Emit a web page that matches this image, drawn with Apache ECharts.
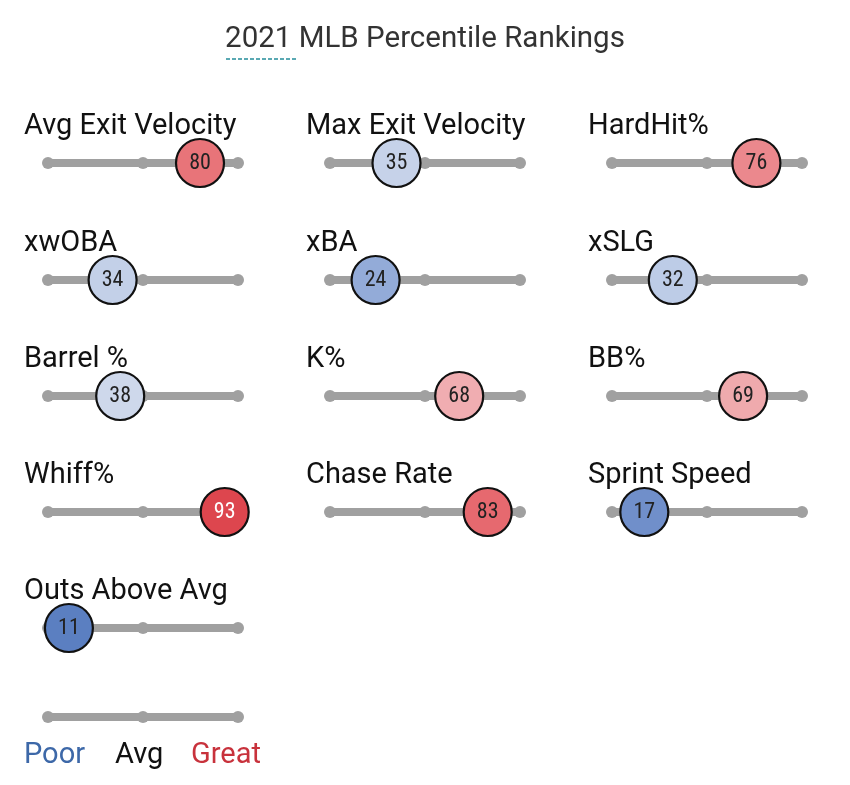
<!DOCTYPE html>
<html>
<head>
<meta charset="utf-8">
<script src="https://cdn.jsdelivr.net/npm/echarts@6/dist/echarts.min.js"></script>
<style>
html,body{margin:0;padding:0;background:#fff;}
#chart{width:850px;height:785px;}
</style>
</head>
<body>
<div id="chart"></div>
<script>
// ---- data ----
const chartTitle = '2021 MLB Percentile Rankings';
const metrics = ['Avg Exit Velocity','Max Exit Velocity','HardHit%','xwOBA','xBA','xSLG','Barrel %','K%','BB%','Whiff%','Chase Rate','Sprint Speed','Outs Above Avg'];
const percentiles = [80,35,76,34,24,32,38,68,69,93,83,17,11];
const scaleTicks = [0,50,100];
const legendLabels = ['Poor','Avg','Great'];

// ---- layout / style ----
const FONT = "Roboto,'Noto Sans',sans-serif";
const NUMFONT = "'Roboto Condensed',Roboto,sans-serif";
const colX = [48,330,612];
const labelX = [24,306,588];
const rowY = [163,280,396,512,628];
const legendY = 717;
const trackW = 190;
const colorStops = [
  [0,[58,95,168]],[10,[87,124,191]],[20,[123,151,207]],[30,[184,200,230]],[40,[211,220,236]],
  [50,[232,232,232]],[60,[242,201,203]],[70,[239,166,170]],[80,[232,116,121]],[90,[224,80,88]],[100,[214,46,56]]
];
function pctColor(v){
  for(let i=0;i<colorStops.length-1;i++){
    const [a,ca]=colorStops[i],[b,cb]=colorStops[i+1];
    if(v>=a&&v<=b){
      const t=(v-a)/(b-a);
      const c=ca.map((x,k)=>Math.round(x+(cb[k]-x)*t));
      return 'rgb('+c.join(',')+')';
    }
  }
  return '#ccc';
}

const grids=[],xAxes=[],yAxes=[],series=[],titles=[];
titles.push({text:chartTitle,left:'center',top:25,padding:0,textStyle:{fontFamily:FONT,fontSize:29.5,fontWeight:'normal',color:'#333'}});

function addTrack(idx,left,y){
  grids.push({left:left,top:y-30,width:trackW,height:60});
  xAxes.push({gridIndex:idx,type:'value',min:0,max:100,show:false});
  yAxes.push({gridIndex:idx,type:'value',min:-1,max:1,show:false});
  series.push({
    type:'line',xAxisIndex:idx,yAxisIndex:idx,silent:true,clip:false,z:2,
    data:scaleTicks.map(t=>[t,0]),symbol:'circle',symbolSize:12,
    lineStyle:{color:'#a0a0a0',width:8},itemStyle:{color:'#a0a0a0'},animation:false
  });
}

metrics.forEach((m,i)=>{
  const c=i%3,r=Math.floor(i/3);
  addTrack(i,colX[c],rowY[r]);
  titles.push({text:m,left:labelX[c],top:rowY[r]-51,padding:0,textStyle:{fontFamily:FONT,fontSize:29,fontWeight:'normal',color:'#111'}});
  const v=percentiles[i];
  series.push({
    type:'scatter',xAxisIndex:i,yAxisIndex:i,clip:false,z:5,animation:false,
    symbol:'circle',symbolSize:48,
    data:[{value:[v,0],itemStyle:{color:pctColor(v)},label:{color:v>=90?'#fff':'#222'}}],
    itemStyle:{borderColor:'#111',borderWidth:2.2,opacity:1},
    emphasis:{disabled:true},
    label:{show:true,position:'inside',formatter:p=>String(p.value[0]),fontFamily:NUMFONT,fontSize:22}
  });
});

// legend scale
const li=metrics.length;
addTrack(li,colX[0],legendY);
const legendColors=['#3d68a8','#111','#c8323c'];
const legendLeft=[24,115,191];
legendLabels.forEach((t,k)=>{
  titles.push({text:t,left:legendLeft[k],top:legendY+24,padding:0,textStyle:{fontFamily:FONT,fontSize:29,fontWeight:'normal',color:legendColors[k]}});
});

const chart=echarts.init(document.getElementById('chart'));
chart.setOption({
  backgroundColor:'#fff',
  animation:false,
  title:titles,
  grid:grids,xAxis:xAxes,yAxis:yAxes,series:series,
  graphic:[{type:'line',shape:{x1:226,y1:59,x2:298,y2:59},style:{stroke:'#5aa9b3',lineWidth:2,lineDash:[4,2]}}]
});
</script>
</body>
</html>
